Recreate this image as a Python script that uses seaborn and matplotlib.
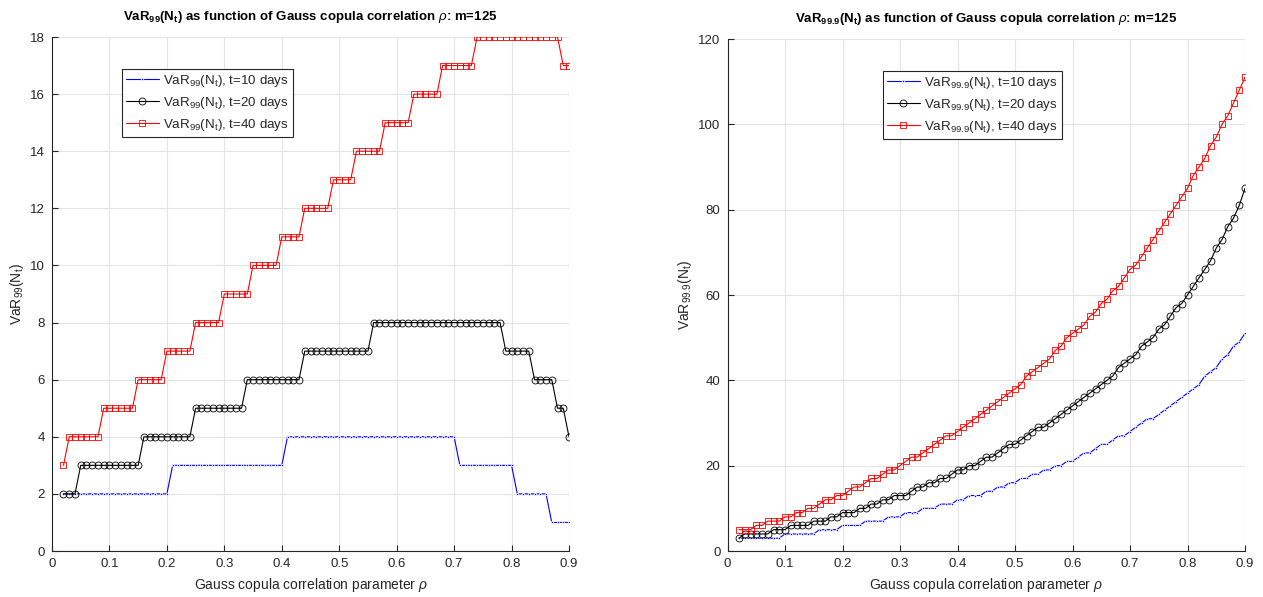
import numpy as np
import matplotlib
matplotlib.use("Agg")
import matplotlib.pyplot as plt
import seaborn as sns

# Gauss copula correlation grid (rho = 0.02 ... 0.90)
rho = np.round(np.arange(2, 91) / 100.0, 2)

# VaR_99 of the number of defaults, m = 125
var99_t10 = [2] * 19 + [3] * 20 + [4] * 30 + [3] * 10 + [2] * 6 + [1] * 4
var99_t20 = ([2] * 3 + [3] * 11 + [4] * 9 + [5] * 9 + [6] * 10 + [7] * 12 +
             [8] * 23 + [7] * 5 + [6] * 4 + [5] * 2 + [4] * 1)
var99_t40 = ([3] * 1 + [4] * 6 + [5] * 6 + [6] * 5 + [7] * 5 + [8] * 5 +
             [9] * 5 + [10] * 5 + [11] * 4 + [12] * 5 + [13] * 4 + [14] * 5 +
             [15] * 5 + [16] * 5 + [17] * 6 + [18] * 15 + [17] * 2)

# VaR_99.9 of the number of defaults, m = 125
var999_t10 = ([3] * 8 + [4] * 6 + [5] * 4 + [6] * 4 + [7] * 4 + [8] * 3 +
              [9] * 3 + [10] * 3 + [11] * 3 + [12] * 2 + [13] * 3 + [14] * 2 +
              [15] * 2 + [16] * 2 + [17] * 2 + [18] * 2 + [19] * 2 + [20] * 2 +
              [21] * 2 +
              [22, 23, 23, 24, 25, 25, 26, 27, 27, 28, 29, 30, 31, 31, 32,
               33, 34, 35, 36, 37, 38, 39, 41, 42, 43, 45, 46, 48, 49, 51])
var999_t20 = ([3] + [4] * 5 + [5] * 3 + [6] * 4 + [7] * 3 + [8] * 2 + [9] * 3 +
              [10] * 2 + [11] * 2 + [12] * 2 + [13] * 3 + [14] + [15] * 2 +
              [16] * 2 + [17] * 2 + [18] + [19] * 2 + [20] * 2 + [21] +
              [22] * 2 + [23] + [24] + [25] * 2 +
              [26, 27, 28, 29, 29, 30, 31, 32, 33, 34, 35, 36, 37, 38, 39,
               40, 41, 43, 44, 45, 46, 48, 49, 50, 52, 53, 55, 57, 58, 60,
               62, 64, 66, 68, 71, 73, 76, 78, 81, 85])
var999_t40 = [5, 5, 5, 6, 6, 7, 7, 7, 8, 8, 9, 9, 10, 10, 11, 12, 12, 13, 13,
              14, 15, 15, 16, 17, 17, 18, 19, 19, 20, 21, 22, 22, 23, 24, 25,
              26, 27, 27, 28, 29, 30, 31, 32, 33, 34, 35, 36, 37, 38, 39, 41,
              42, 43, 44, 45, 47, 48, 50, 51, 52, 53, 55, 56, 58, 59, 61, 62,
              64, 66, 67, 69, 71, 73, 75, 77, 79, 81, 83, 85, 88, 90, 92, 95,
              97, 100, 102, 105, 108, 111]

x_ticks = [0, 0.1, 0.2, 0.3, 0.4, 0.5, 0.6, 0.7, 0.8, 0.9]
x_tick_labels = ["0", "0.1", "0.2", "0.3", "0.4", "0.5", "0.6", "0.7", "0.8", "0.9"]
y_ticks_99 = list(range(0, 19, 2))
y_ticks_999 = list(range(0, 121, 20))

horizons = ["t=10 days", "t=20 days", "t=40 days"]

sns.set_theme(style="ticks")
plt.rcParams["font.family"] = ["Liberation Sans", "DejaVu Sans"]
plt.rcParams["mathtext.fontset"] = "custom"
plt.rcParams["mathtext.rm"] = "Liberation Sans"
plt.rcParams["mathtext.it"] = "Liberation Sans:italic"
plt.rcParams["mathtext.bf"] = "Liberation Sans:bold"
plt.rcParams["mathtext.default"] = "regular"

TXT = "#262626"
GRID = "#e3e3e3"

W, H = 1263, 597
fig = plt.figure(figsize=(W / 100, H / 100), dpi=100)
ax1 = fig.add_axes([52 / W, (H - 551) / H, 517 / W, 514 / H])
ax2 = fig.add_axes([727.5 / W, (H - 551) / H, 517.5 / W, 512 / H])

styles = [
    dict(color="blue", marker=".", markersize=3.5, markeredgewidth=0.6),
    dict(color="black", marker="o", markersize=5.0, markerfacecolor="none",
         markeredgecolor="black", markeredgewidth=0.6),
    dict(color="red", marker="s", markersize=4.5, markerfacecolor="none",
         markeredgecolor="red", markeredgewidth=0.6),
]


def draw_panel(ax, series, sub, yticks, ylim, legend_anchor):
    for vals, hz, st in zip(series, horizons, styles):
        sns.lineplot(x=rho, y=vals, ax=ax, linewidth=0.8,
                     label=r"VaR$_{%s}$(N$_{t}$), %s" % (sub, hz), **st)
    ax.set_xlim(0, 0.9)
    ax.set_ylim(*ylim)
    ax.set_xticks(x_ticks)
    ax.set_xticklabels(x_tick_labels)
    ax.set_yticks(yticks)
    ax.grid(True, color=GRID, linewidth=0.8)
    ax.set_axisbelow(True)
    for s in ("top", "right"):
        ax.spines[s].set_visible(False)
    for s in ("left", "bottom"):
        ax.spines[s].set_color(TXT)
        ax.spines[s].set_linewidth(0.8)
    ax.tick_params(direction="in", length=4, width=0.8, colors=TXT,
                   labelsize=9.5, pad=5)
    ax.set_xlabel(r"Gauss copula correlation parameter $\mathit{\rho}$",
                  fontsize=10, color=TXT, labelpad=4)
    ax.set_ylabel(r"VaR$_{%s}$(N$_{t}$)" % sub, fontsize=10, color=TXT,
                  labelpad=3)
    ax.set_title(r"VaR$_{\mathbf{%s}}$(N$_{\mathbf{t}}$) as function of Gauss "
                 r"copula correlation $\mathit{\rho}$: m=125" % sub,
                 fontsize=9.5, fontweight="bold", color="black", pad=12)
    leg = ax.legend(loc="upper left", bbox_to_anchor=legend_anchor,
                    fontsize=9.6, frameon=True, fancybox=False, framealpha=1,
                    edgecolor=TXT, handlelength=2.5, handletextpad=0.3,
                    labelspacing=0.45, borderpad=0.3, borderaxespad=0)
    leg.get_frame().set_linewidth(0.8)


draw_panel(ax1, [var99_t10, var99_t20, var99_t40], "99", y_ticks_99, (0, 18),
           (0.135, 0.938))
draw_panel(ax2, [var999_t10, var999_t20, var999_t40], "99.9", y_ticks_999,
           (0, 120), (0.30, 0.9375))

fig.savefig("out.png", dpi=100, facecolor="white")
